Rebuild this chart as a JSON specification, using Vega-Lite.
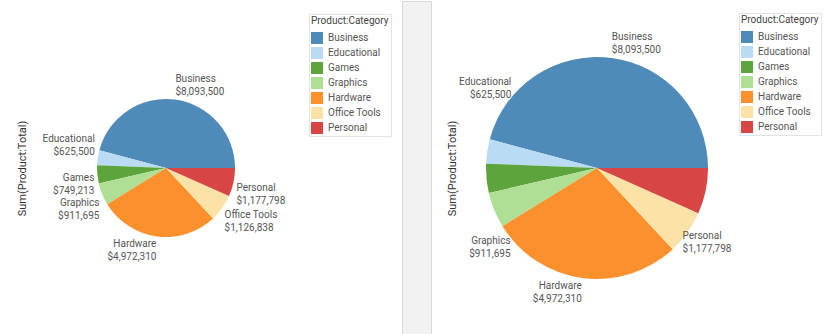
{
  "$schema": "https://vega.github.io/schema/vega-lite/v6.json",
  "background": "white",
  "padding": {"left": 16, "top": 0, "right": 0, "bottom": 0},
  "config": {
    "font": "Roboto",
    "view": {"stroke": null},
    "axis": {"titleFontSize": 11, "titleFontWeight": "normal", "titleColor": "#333333", "titleFont": "Roboto"},
    "legend": {
      "titleFontSize": 10, "titleFontWeight": "normal", "titleColor": "#444444",
      "labelFontSize": 10, "labelColor": "#555555",
      "symbolType": "square", "symbolSize": 144, "symbolStrokeWidth": 0,
      "strokeColor": "#e3e3e3", "fillColor": "white", "padding": 2,
      "rowPadding": 3, "titlePadding": 6, "labelOffset": 5
    }
  },
  "data": {"values": [
    {"Category": "Business", "Total": 8093500},
    {"Category": "Educational", "Total": 625500},
    {"Category": "Games", "Total": 749213},
    {"Category": "Graphics", "Total": 911695},
    {"Category": "Hardware", "Total": 4972310},
    {"Category": "Office Tools", "Total": 1126838},
    {"Category": "Personal", "Total": 1177798}
  ]},
  "bounds": "flush",
  "spacing": 101,
  "resolve": {"scale": {"color": "independent", "theta": "independent", "y": "independent"}, "legend": {"color": "independent"}},
  "hconcat": [
    {
      "width": 270, "height": 334,
      "layer": [
        {
          "mark": {"type": "point", "opacity": 0},
          "encoding": {
            "y": {"aggregate": "sum", "field": "Total", "type": "quantitative", "title": "Sum(Product:Total)",
              "axis": {"labels": false, "ticks": false, "domain": false, "grid": false, "titlePadding": 4}}
          }
        },
        {
          "mark": {"type": "arc", "radius": 69},
          "encoding": {
            "theta": {"field": "Total", "type": "quantitative", "stack": true, "scale": {"range": [1.5708, 7.854]}},
            "order": {"field": "Category", "sort": "descending"},
            "color": {"field": "Category", "type": "nominal", "title": "Product:Category",
              "scale": {"domain": ["Business", "Educational", "Games", "Graphics", "Hardware", "Office Tools", "Personal"],
                        "range": ["#4e8bb9", "#b9dbf3", "#5ea43c", "#aedf94", "#fb902d", "#fde2a8", "#d84545"]},
              "legend": {"orient": "none", "legendX": 278, "legendY": 13}}
          }
        },
        {
          "mark": {"type": "text", "radius": 72, "fontSize": 10, "color": "#555555",
            "align": {"expr": "indexof(['Business','Personal','Office Tools'], datum.Category) >= 0 ? 'left' : 'right'"},
            "baseline": {"expr": "indexof(['Business','Educational'], datum.Category) >= 0 ? 'bottom' : 'top'"},
            "dy": {"expr": "(indexof(['Business','Educational'], datum.Category) >= 0 ? -13 : 0) + (datum.Category === 'Games' ? -2 : datum.Category === 'Graphics' ? 3 : 0)"}},
          "encoding": {
            "theta": {"field": "Total", "type": "quantitative", "stack": true},
            "order": {"field": "Category", "sort": "descending"},
            "text": {"field": "Category"}
          }
        },
        {
          "mark": {"type": "text", "radius": 72, "fontSize": 10, "color": "#555555",
            "align": {"expr": "indexof(['Business','Personal','Office Tools'], datum.Category) >= 0 ? 'left' : 'right'"},
            "baseline": {"expr": "indexof(['Business','Educational'], datum.Category) >= 0 ? 'bottom' : 'top'"},
            "dy": {"expr": "(indexof(['Business','Educational'], datum.Category) >= 0 ? 0 : 13) + (datum.Category === 'Games' ? -2 : datum.Category === 'Graphics' ? 3 : 0)"}},
          "encoding": {
            "theta": {"field": "Total", "type": "quantitative", "stack": true},
            "order": {"field": "Category", "sort": "descending"},
            "text": {"field": "Total", "type": "quantitative", "format": "$,.0f"}
          }
        }
      ]
    },
    {
      "width": 29, "height": 336,
      "view": {"fill": "#f2f2f2", "stroke": "#d9d9d9"},
      "mark": {"type": "text", "text": ""},
      "encoding": {}
    },
    {
      "width": 130, "height": 334,
      "layer": [
        {
          "mark": {"type": "point", "opacity": 0},
          "encoding": {
            "y": {"aggregate": "sum", "field": "Total", "type": "quantitative", "title": "Sum(Product:Total)",
              "axis": {"labels": false, "ticks": false, "domain": false, "grid": false, "titlePadding": 75}}
          }
        },
        {
          "mark": {"type": "arc", "radius": 111},
          "encoding": {
            "theta": {"field": "Total", "type": "quantitative", "stack": true, "scale": {"range": [1.5708, 7.854]}},
            "order": {"field": "Category", "sort": "descending"},
            "color": {"field": "Category", "type": "nominal", "title": "Product:Category",
              "scale": {"domain": ["Business", "Educational", "Games", "Graphics", "Hardware", "Office Tools", "Personal"],
                        "range": ["#4e8bb9", "#b9dbf3", "#5ea43c", "#aedf94", "#fb902d", "#fde2a8", "#d84545"]},
              "legend": {"orient": "none", "legendX": 207, "legendY": 12}}
          }
        },
        {
          "mark": {"type": "text", "radius": 114, "fontSize": 10, "color": "#555555",
            "align": {"expr": "indexof(['Business','Personal','Office Tools'], datum.Category) >= 0 ? 'left' : 'right'"},
            "baseline": {"expr": "indexof(['Business','Educational'], datum.Category) >= 0 ? 'bottom' : 'top'"},
            "dx": {"expr": "datum.Category === 'Educational' ? 27 : datum.Category === 'Graphics' ? 19 : datum.Category === 'Personal' ? -26 : 0"},
            "dy": {"expr": "(indexof(['Business','Educational'], datum.Category) >= 0 ? -13 : 0) + (datum.Category === 'Educational' ? -51 : datum.Category === 'Graphics' ? 25 : datum.Category === 'Personal' ? 39 : 0)"}},
          "encoding": {
            "theta": {"field": "Total", "type": "quantitative", "stack": true},
            "order": {"field": "Category", "sort": "descending"},
            "text": {"field": "Category", "condition": {"test": "datum.Category === 'Games' || datum.Category === 'Office Tools'", "value": ""}}
          }
        },
        {
          "mark": {"type": "text", "radius": 114, "fontSize": 10, "color": "#555555",
            "align": {"expr": "indexof(['Business','Personal','Office Tools'], datum.Category) >= 0 ? 'left' : 'right'"},
            "baseline": {"expr": "indexof(['Business','Educational'], datum.Category) >= 0 ? 'bottom' : 'top'"},
            "dx": {"expr": "datum.Category === 'Educational' ? 27 : datum.Category === 'Graphics' ? 19 : datum.Category === 'Personal' ? -26 : 0"},
            "dy": {"expr": "(indexof(['Business','Educational'], datum.Category) >= 0 ? 0 : 13) + (datum.Category === 'Educational' ? -51 : datum.Category === 'Graphics' ? 25 : datum.Category === 'Personal' ? 39 : 0)"}},
          "encoding": {
            "theta": {"field": "Total", "type": "quantitative", "stack": true},
            "order": {"field": "Category", "sort": "descending"},
            "text": {"field": "Total", "type": "quantitative", "format": "$,.0f", "condition": {"test": "datum.Category === 'Games' || datum.Category === 'Office Tools'", "value": ""}}
          }
        }
      ]
    }
  ]
}
